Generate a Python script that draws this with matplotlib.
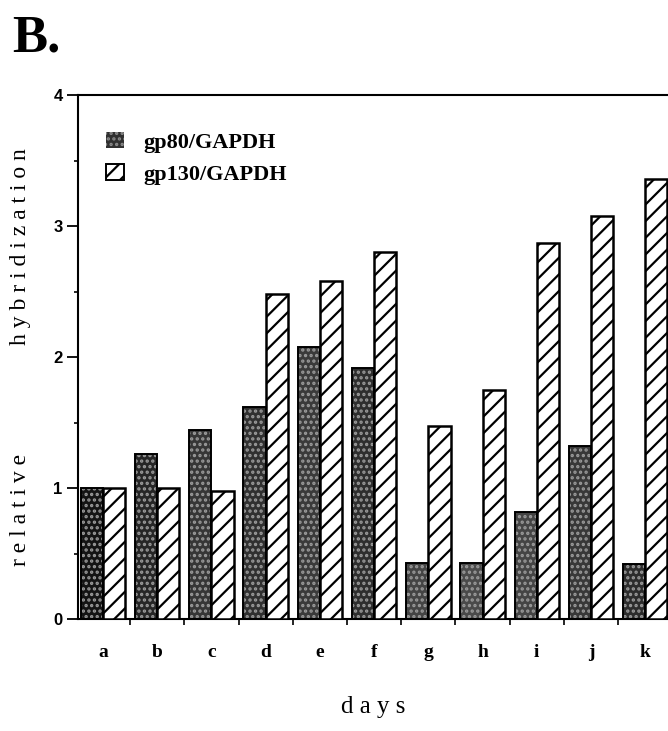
import numpy as np
import matplotlib
matplotlib.use('Agg')
import matplotlib.pyplot as plt
from matplotlib.patches import Patch
from matplotlib.ticker import MultipleLocator, FixedLocator

# values
days = ['a', 'b', 'c', 'd', 'e', 'f', 'g', 'h', 'i', 'j', 'k']
gp80 = [1.00, 1.26, 1.44, 1.62, 2.08, 1.92, 0.43, 0.43, 0.82, 1.32, 0.42]
gp130 = [1.00, 1.00, 0.98, 2.48, 2.58, 2.80, 1.47, 1.75, 2.87, 3.08, 3.36]
series_names = ['gp80/GAPDH', 'gp130/GAPDH']

SERIF = 'Liberation Serif'
SANS = 'Liberation Sans'

# stipple shades of the gp80 bars (darker at day a)
shades = ['#141414', '#262626', '#363636', '#303030', '#3a3a3a', '#2e2e2e',
          '#444444', '#4a4a4a', '#444444', '#383838', '#2c2c2c']


def main():
    plt.rcParams['hatch.linewidth'] = 1.6

    fig = plt.figure(figsize=(6.68, 7.31), dpi=100)
    ax = fig.add_axes([0.1168, 0.1532, 0.8832, 0.7168])

    x = np.arange(len(days))
    w = 0.41

    # gp80: stippled grey, drawn as fill + dots, then outline
    ax.bar(x - w / 2, gp80, w, color=shades, edgecolor='#9a9a9a',
           hatch='...', linewidth=0, zorder=2)
    ax.bar(x - w / 2, gp80, w, fill=False, edgecolor='black',
           linewidth=1.4, zorder=3)

    # gp130: white with diagonal hatch
    ax.bar(x + w / 2, gp130, w, color='white', edgecolor='black',
           hatch='//', linewidth=1.8, zorder=3)

    ax.set_xlim(-0.46, 10.42)
    ax.set_ylim(0, 4)

    # spines
    ax.spines['right'].set_visible(False)
    for s in ['left', 'bottom', 'top']:
        ax.spines[s].set_linewidth(1.5)

    # y ticks
    ax.yaxis.set_major_locator(MultipleLocator(1))
    ax.yaxis.set_minor_locator(MultipleLocator(0.5))
    ax.tick_params(axis='y', which='major', length=8, width=1.3, pad=3)
    ax.tick_params(axis='y', which='minor', length=3, width=1.2)
    for lab in ax.get_yticklabels():
        lab.set_fontfamily(SANS)
        lab.set_fontweight('bold')
        lab.set_fontsize(12)

    # x ticks: labels at group centers, small marks between groups
    ax.set_xticks(x)
    ax.set_xticklabels(days, fontfamily=SERIF, fontweight='bold', fontsize=14)
    ax.xaxis.set_minor_locator(FixedLocator(x[:-1] + 0.5))
    ax.tick_params(axis='x', which='major', length=0, pad=18)
    ax.tick_params(axis='x', which='minor', length=4, width=1.2)

    # axis titles
    fig.text(0.558, 0.018, 'd a y s', fontfamily=SERIF, fontsize=18,
             ha='center', va='bottom')
    fig.text(0.030, 0.302, 'r e l a t i v e', fontfamily=SERIF, fontsize=17,
             rotation=90, ha='center', va='center')
    fig.text(0.030, 0.662, 'h y b r i d i z a t i o n', fontfamily=SERIF,
             fontsize=17, rotation=90, ha='center', va='center')

    # panel letter
    fig.text(0.018, 0.929, 'B.', fontfamily=SERIF, fontsize=38,
             fontweight='bold', ha='left', va='baseline')

    # legend
    handles = [Patch(facecolor='#303030', edgecolor='#8a8a8a', hatch='...',
                     linewidth=0),
               Patch(facecolor='white', edgecolor='black', hatch='//', linewidth=1.4)]
    ax.legend(handles, series_names, loc='upper left',
              bbox_to_anchor=(0.048, 0.93), frameon=False,
              prop={'family': SERIF, 'weight': 'bold', 'size': 16},
              handlelength=0.8, handleheight=0.75, handletextpad=0.85,
              labelspacing=0.5, borderaxespad=0, borderpad=0)

    fig.savefig('out.png', dpi=100)


if __name__ == '__main__':
    main()
